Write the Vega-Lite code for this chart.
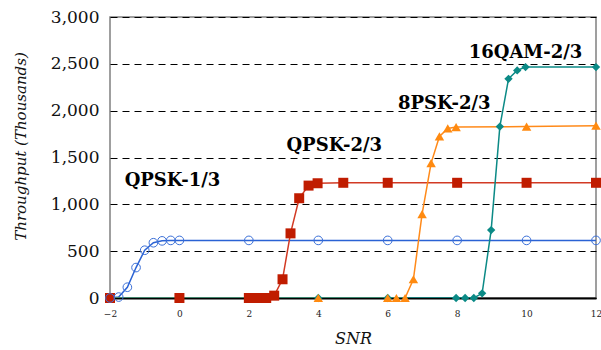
{
  "$schema": "https://vega.github.io/schema/vega-lite/v6.json",
  "width": 486,
  "height": 281,
  "autosize": {"type": "none"},
  "padding": {"left": 110, "top": 17, "right": 5, "bottom": 52},
  "background": "white",
  "config": {
    "view": {"stroke": "#808080", "strokeWidth": 1.5},
    "font": "DejaVu Serif"
  },
  "datasets": {
    "curves": [
      {"series": "QPSK-1/3", "snr": -2, "tp": 0},
      {"series": "QPSK-1/3", "snr": -1.75, "tp": 10},
      {"series": "QPSK-1/3", "snr": -1.5, "tp": 115},
      {"series": "QPSK-1/3", "snr": -1.25, "tp": 325},
      {"series": "QPSK-1/3", "snr": -1, "tp": 510},
      {"series": "QPSK-1/3", "snr": -0.75, "tp": 590},
      {"series": "QPSK-1/3", "snr": -0.5, "tp": 610},
      {"series": "QPSK-1/3", "snr": -0.25, "tp": 615},
      {"series": "QPSK-1/3", "snr": 0, "tp": 615},
      {"series": "QPSK-1/3", "snr": 2, "tp": 615},
      {"series": "QPSK-1/3", "snr": 4, "tp": 615},
      {"series": "QPSK-1/3", "snr": 6, "tp": 615},
      {"series": "QPSK-1/3", "snr": 8, "tp": 615},
      {"series": "QPSK-1/3", "snr": 10, "tp": 615},
      {"series": "QPSK-1/3", "snr": 12, "tp": 615},
      {"series": "QPSK-2/3", "snr": -2, "tp": 0},
      {"series": "QPSK-2/3", "snr": 0, "tp": 0},
      {"series": "QPSK-2/3", "snr": 2, "tp": 0},
      {"series": "QPSK-2/3", "snr": 2.25, "tp": 0},
      {"series": "QPSK-2/3", "snr": 2.5, "tp": 0},
      {"series": "QPSK-2/3", "snr": 2.73, "tp": 25},
      {"series": "QPSK-2/3", "snr": 2.97, "tp": 200},
      {"series": "QPSK-2/3", "snr": 3.2, "tp": 690},
      {"series": "QPSK-2/3", "snr": 3.45, "tp": 1065},
      {"series": "QPSK-2/3", "snr": 3.72, "tp": 1200},
      {"series": "QPSK-2/3", "snr": 3.98, "tp": 1225},
      {"series": "QPSK-2/3", "snr": 4.72, "tp": 1230},
      {"series": "QPSK-2/3", "snr": 6, "tp": 1230},
      {"series": "QPSK-2/3", "snr": 8, "tp": 1230},
      {"series": "QPSK-2/3", "snr": 10, "tp": 1230},
      {"series": "QPSK-2/3", "snr": 12, "tp": 1230},
      {"series": "8PSK-2/3", "snr": -2, "tp": 0},
      {"series": "8PSK-2/3", "snr": 0, "tp": 0},
      {"series": "8PSK-2/3", "snr": 2, "tp": 0},
      {"series": "8PSK-2/3", "snr": 4, "tp": 0},
      {"series": "8PSK-2/3", "snr": 6, "tp": 0},
      {"series": "8PSK-2/3", "snr": 6.25, "tp": 0},
      {"series": "8PSK-2/3", "snr": 6.5, "tp": 0},
      {"series": "8PSK-2/3", "snr": 6.74, "tp": 200},
      {"series": "8PSK-2/3", "snr": 6.99, "tp": 895},
      {"series": "8PSK-2/3", "snr": 7.25, "tp": 1440},
      {"series": "8PSK-2/3", "snr": 7.49, "tp": 1725},
      {"series": "8PSK-2/3", "snr": 7.73, "tp": 1810},
      {"series": "8PSK-2/3", "snr": 7.97, "tp": 1825},
      {"series": "8PSK-2/3", "snr": 10, "tp": 1830},
      {"series": "8PSK-2/3", "snr": 12, "tp": 1840},
      {"series": "16QAM-2/3", "snr": -2, "tp": 0},
      {"series": "16QAM-2/3", "snr": 0, "tp": 0},
      {"series": "16QAM-2/3", "snr": 2, "tp": 0},
      {"series": "16QAM-2/3", "snr": 4, "tp": 0},
      {"series": "16QAM-2/3", "snr": 6, "tp": 0},
      {"series": "16QAM-2/3", "snr": 7.97, "tp": 0},
      {"series": "16QAM-2/3", "snr": 8.23, "tp": 0},
      {"series": "16QAM-2/3", "snr": 8.48, "tp": 0},
      {"series": "16QAM-2/3", "snr": 8.72, "tp": 50},
      {"series": "16QAM-2/3", "snr": 8.98, "tp": 725},
      {"series": "16QAM-2/3", "snr": 9.23, "tp": 1830},
      {"series": "16QAM-2/3", "snr": 9.48, "tp": 2340},
      {"series": "16QAM-2/3", "snr": 9.73, "tp": 2430},
      {"series": "16QAM-2/3", "snr": 9.97, "tp": 2465},
      {"series": "16QAM-2/3", "snr": 12, "tp": 2465}
    ],
    "labels": [
      {"label": "QPSK-1/3", "snr": -0.2, "tp": 1245},
      {"label": "QPSK-2/3", "snr": 4.46, "tp": 1619},
      {"label": "8PSK-2/3", "snr": 7.63, "tp": 2067},
      {"label": "16QAM-2/3", "snr": 9.97, "tp": 2614}
    ]
  },
  "layer": [
    {
      "data": {"name": "curves"},
      "mark": {"type": "line", "strokeWidth": 1.5, "clip": true},
      "encoding": {
        "x": {
          "field": "snr", "type": "quantitative",
          "scale": {"domain": [-2, 12], "nice": false, "zero": false},
          "axis": {
            "values": [-2, 0, 2, 4, 6, 8, 10, 12],
            "title": "SNR",
            "titleFont": "DejaVu Serif", "titleFontStyle": "italic", "titleFontWeight": "normal",
            "titleFontSize": 16, "titleColor": "#111", "titlePadding": 12,
            "labelFont": "DejaVu Serif", "labelFontSize": 9, "labelColor": "#222",
            "labelPadding": 11, "ticks": false, "grid": false,
            "domainColor": "#000", "domainWidth": 2, "labelFlush": false
          }
        },
        "y": {
          "field": "tp", "type": "quantitative",
          "scale": {"domain": [0, 3000], "nice": false},
          "axis": {
            "values": [0, 500, 1000, 1500, 2000, 2500, 3000],
            "format": ",.0f",
            "title": "Throughput (Thousands)",
            "titleFont": "DejaVu Serif", "titleFontStyle": "italic", "titleFontWeight": "normal",
            "titleFontSize": 15, "titleColor": "#111", "titlePadding": 22, "titleY": 129,
            "labelFont": "DejaVu Serif", "labelFontSize": 17, "labelColor": "#111",
            "labelPadding": 11, "ticks": false, "domain": false,
            "grid": true, "gridColor": "#000", "gridDash": [7, 5], "gridWidth": 1, "gridOpacity": 1
          }
        },
        "color": {
          "field": "series", "type": "nominal", "legend": null,
          "scale": {
            "domain": ["QPSK-1/3", "QPSK-2/3", "8PSK-2/3", "16QAM-2/3"],
            "range": ["#2a62d4", "#d23a24", "#ff8a1a", "#0b8a86"]
          }
        },
        "detail": {"field": "series"},
        "order": {"field": "snr", "type": "quantitative"}
      }
    },
    {
      "data": {"name": "curves"},
      "transform": [{"filter": "datum.series === '16QAM-2/3'"}],
      "mark": {"type": "point", "shape": "diamond", "filled": true, "size": 70, "color": "#0b8a86", "opacity": 1},
      "encoding": {
        "x": {"field": "snr", "type": "quantitative"},
        "y": {"field": "tp", "type": "quantitative"}
      }
    },
    {
      "data": {"name": "curves"},
      "transform": [{"filter": "datum.series === '8PSK-2/3'"}],
      "mark": {"type": "point", "shape": "triangle-up", "filled": true, "size": 90, "color": "#ff8a10", "opacity": 1},
      "encoding": {
        "x": {"field": "snr", "type": "quantitative"},
        "y": {"field": "tp", "type": "quantitative"}
      }
    },
    {
      "data": {"name": "curves"},
      "transform": [{"filter": "datum.series === 'QPSK-2/3'"}],
      "mark": {"type": "point", "shape": "square", "filled": true, "size": 100, "color": "#c01c00", "opacity": 1},
      "encoding": {
        "x": {"field": "snr", "type": "quantitative"},
        "y": {"field": "tp", "type": "quantitative"}
      }
    },
    {
      "data": {"name": "curves"},
      "transform": [{"filter": "datum.series === 'QPSK-1/3'"}],
      "mark": {"type": "point", "shape": "circle", "filled": false, "size": 75, "stroke": "#3a6fd8", "strokeWidth": 1, "opacity": 1},
      "encoding": {
        "x": {"field": "snr", "type": "quantitative"},
        "y": {"field": "tp", "type": "quantitative"}
      }
    },
    {
      "data": {"name": "labels"},
      "mark": {"type": "text", "font": "DejaVu Serif", "fontWeight": "bold", "fontSize": 18, "color": "#000", "align": "center", "baseline": "middle"},
      "encoding": {
        "x": {"field": "snr", "type": "quantitative"},
        "y": {"field": "tp", "type": "quantitative"},
        "text": {"field": "label"}
      }
    }
  ]
}
